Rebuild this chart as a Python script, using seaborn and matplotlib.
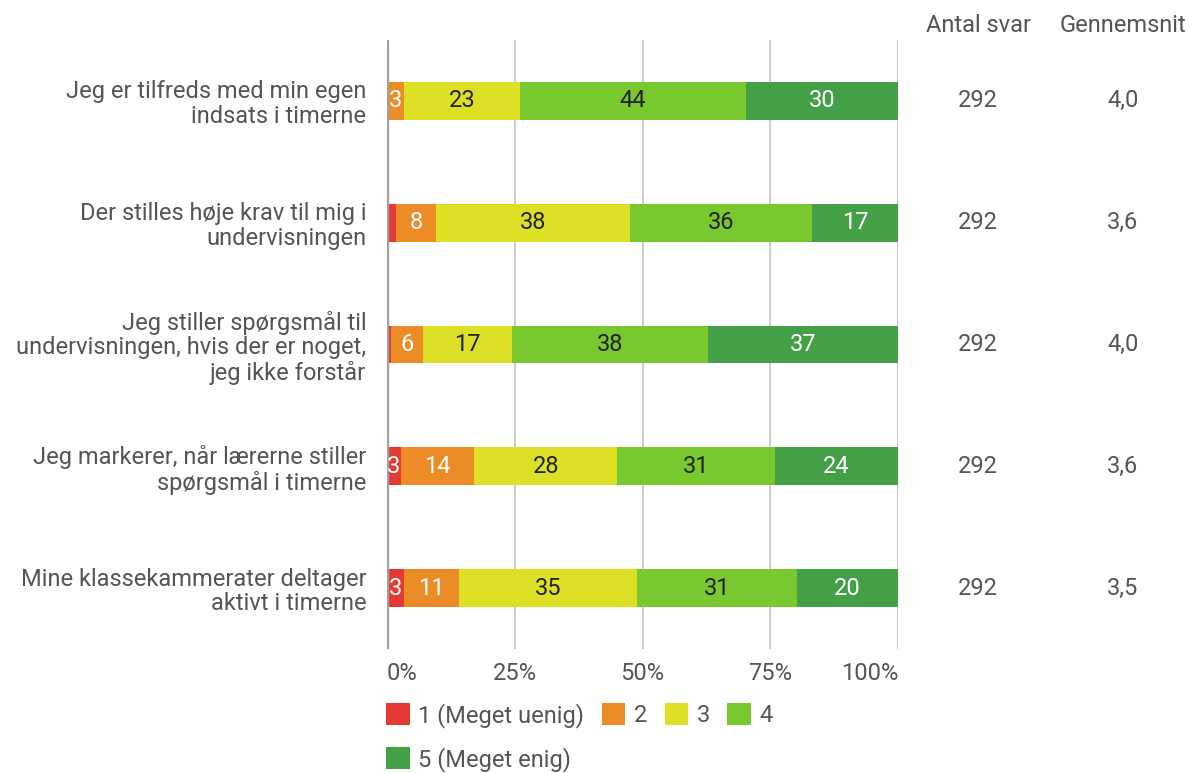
import matplotlib
matplotlib.use("Agg")
import matplotlib.pyplot as plt
import matplotlib.transforms as mtransforms
from matplotlib.patches import Patch
import numpy as np
import pandas as pd
import seaborn as sns

questions = [
    "Jeg er tilfreds med min egen\nindsats i timerne",
    "Der stilles høje krav til mig i\nundervisningen",
    "Jeg stiller spørgsmål til\nundervisningen, hvis der er noget,\njeg ikke forstår",
    "Jeg markerer, når lærerne stiller\nspørgsmål i timerne",
    "Mine klassekammerater deltager\naktivt i timerne",
]
levels = ["1 (Meget uenig)", "2", "3", "4", "5 (Meget enig)"]
pct_1 = [0.0, 1.7, 0.7, 2.7, 3.3]
pct_2 = [3.3, 7.9, 6.4, 14.4, 10.8]
pct_3 = [22.7, 38.0, 17.4, 28.0, 34.8]
pct_4 = [44.2, 35.6, 38.4, 30.9, 31.3]
pct_5 = [29.8, 16.8, 37.1, 24.0, 19.8]
n_answers = [292, 292, 292, 292, 292]
means = ["4,0", "3,6", "4,0", "3,6", "3,5"]
x_ticks = [0, 25, 50, 75, 100]
x_tick_labels = ["0%", "25%", "50%", "75%", "100%"]
col_headers = ["Antal svar", "Gennemsnit"]

colors = ["#E53935", "#EB8C26", "#DEE026", "#7AC830", "#43A047"]
text_colors = ["white", "white", "#222222", "#222222", "white"]
grey = "#555555"
FS = 17

sns.set_theme(style="white")
plt.rcParams["font.family"] = ["Roboto", "DejaVu Sans"]

fig = plt.figure(figsize=(11.9, 7.73), dpi=100)
ax = fig.add_axes([387 / 1190, 1 - 649 / 773, 511 / 1190, 609 / 773])

vals = np.array([pct_1, pct_2, pct_3, pct_4, pct_5])
cum = np.cumsum(vals, axis=0)
df = pd.DataFrame({"question": questions})
for i in range(5):
    df[f"cum{i}"] = cum[i]

for i in reversed(range(5)):
    sns.barplot(data=df, x=f"cum{i}", y="question", orient="h", color=colors[i],
                saturation=1, width=0.31, linewidth=0, ax=ax, zorder=3)

for i in range(5):
    for j in range(5):
        v = vals[i][j]
        if v >= 2.5:
            ax.text(cum[i][j] - v / 2, j, f"{round(v)}", ha="center", va="center",
                    color=text_colors[i], fontsize=FS, zorder=5)

ax.set_xlim(0, 100)
ax.set_xticks(x_ticks)
ax.set_xticklabels(x_tick_labels)
xt = ax.get_xticklabels()
xt[0].set_ha("left")
xt[-1].set_ha("right")
ax.set_xlabel("")
ax.set_ylabel("")
for s in ax.spines.values():
    s.set_visible(False)
ax.grid(axis="x", color="#c4c4c4", linewidth=1.2, zorder=0)
ax.grid(axis="y", visible=False)
ax.set_axisbelow(True)
ax.axvline(0, color="#a0a0a0", linewidth=2.4, zorder=4)
ax.tick_params(axis="y", length=0, pad=15, labelsize=FS, labelcolor=grey)
ax.tick_params(axis="x", length=0, pad=9, labelsize=FS, labelcolor=grey)
for t in ax.get_yticklabels():
    t.set_linespacing(1.1)

trans = mtransforms.blended_transform_factory(fig.transFigure, ax.transData)
col_x = [978 / 1190, 1123 / 1190]
for j in range(5):
    ax.text(col_x[0], j, f"{n_answers[j]}", transform=trans, ha="center", va="center",
            fontsize=FS, color=grey)
    ax.text(col_x[1], j, means[j], transform=trans, ha="center", va="center",
            fontsize=FS, color=grey)
for x, h in zip(col_x, col_headers):
    fig.text(x, 1 - 25 / 773, h, ha="center", va="center", fontsize=FS, color=grey)

handles = [Patch(facecolor=c, edgecolor="none") for c in colors]
order = [0, 4, 1, 2, 3]
fig.legend([handles[k] for k in order], [levels[k] for k in order],
           loc="upper left", bbox_to_anchor=(386 / 1190, 1 - 703 / 773),
           ncol=4, frameon=False, handlelength=1.0, handleheight=1.05,
           handletextpad=0.35, columnspacing=0.75, labelspacing=0.8,
           borderpad=0, borderaxespad=0, fontsize=FS, labelcolor=grey)

fig.savefig("out.png", dpi=100)
